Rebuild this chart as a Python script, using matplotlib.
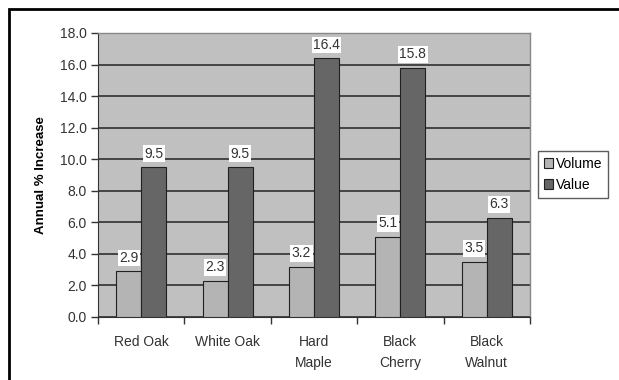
import numpy as np
import matplotlib.pyplot as plt
from matplotlib.patches import Rectangle

# species and annual % increase
species = ["Red Oak", "White Oak", "Hard\nMaple", "Black\nCherry", "Black\nWalnut"]
volume = [2.9, 2.3, 3.2, 5.1, 3.5]
value = [9.5, 9.5, 16.4, 15.8, 6.3]
yticks = [0, 2, 4, 6, 8, 10, 12, 14, 16, 18]

plt.rcParams['font.family'] = ['Liberation Sans', 'DejaVu Sans']

fig = plt.figure(figsize=(6.19, 3.8), dpi=100)
ax = fig.add_axes([98 / 619, 1 - 317 / 380, 432 / 619, 284 / 380])

# outer frame of the chart
fig.patches.append(Rectangle((9 / 619, -0.05), 1.2, 1 - 9 / 380 + 0.05,
                             transform=fig.transFigure, fill=False,
                             edgecolor="black", linewidth=2, zorder=0))

x = np.arange(len(species))
w = 0.29
ax.set_facecolor("#c0c0c0")
b1 = ax.bar(x - w / 2, volume, w, color="#b4b4b4", edgecolor="#202020",
            linewidth=0.8, label="Volume", zorder=3)
b2 = ax.bar(x + w / 2, value, w, color="#666666", edgecolor="#202020",
            linewidth=0.8, label="Value", zorder=3)

for bars, vals in [(b1, volume), (b2, value)]:
    for r, v in zip(bars, vals):
        ax.text(r.get_x() + r.get_width() / 2, v + 0.4, f"{v:.1f}",
                ha="center", va="bottom", fontsize=10, color="#333333",
                bbox=dict(facecolor="white", edgecolor="none", pad=1.0),
                zorder=4)

ax.set_xlim(-0.5, len(species) - 0.5)
ax.set_ylim(0, 18)
ax.set_yticks(yticks)
ax.set_yticklabels([f"{t:.1f}" for t in yticks], fontsize=10, color="#333333")
ax.yaxis.grid(True, color="#3a3a3a", linewidth=1.3, zorder=1)
ax.set_axisbelow(True)

ax.set_xticks(x)
ax.set_xticklabels(species, fontsize=10, color="#333333", linespacing=1.6)
ax.tick_params(axis="x", length=0, pad=13)
ax.set_xticks(np.arange(len(species) + 1) - 0.5, minor=True)
ax.tick_params(axis="x", which="minor", length=5, width=1, color="#333333")
ax.tick_params(axis="y", length=5, width=1, color="#333333", pad=3)

for side in ["top", "right"]:
    ax.spines[side].set_color("#888888")
    ax.spines[side].set_linewidth(1)
ax.spines["left"].set_color("#333333")
ax.spines["bottom"].set_color("#333333")

ax.set_ylabel("Annual % Increase", fontsize=9.5, fontweight="bold", labelpad=9)

leg = fig.legend(handles=[b1, b2], loc="upper left",
                 bbox_to_anchor=(538 / 619, 1 - 151 / 380), fontsize=10,
                 frameon=True, fancybox=False, shadow=False,
                 handlelength=0.7, handleheight=0.7, handletextpad=0.2,
                 borderpad=0.4, labelspacing=0.55, borderaxespad=0)
leg.get_frame().set_edgecolor("#333333")
leg.get_frame().set_linewidth(1)

fig.savefig("out.png", dpi=100, facecolor="white")
